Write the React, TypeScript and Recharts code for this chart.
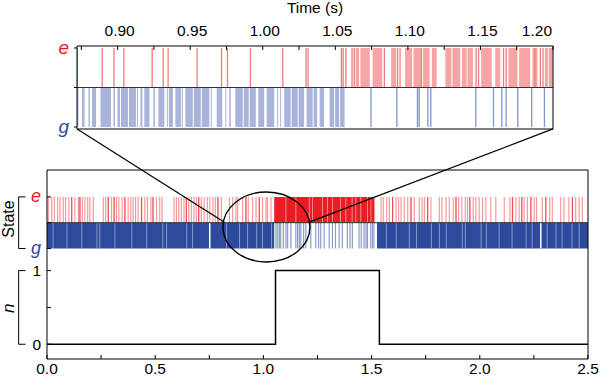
import React from 'react';
import { ComposedChart, Area, Line, XAxis, YAxis, ReferenceLine, ReferenceDot } from 'recharts';

// ---------------- data (seconds) ----------------
// photon number n(t)
const nTimes = [0, 1.056, 1.536, 2.5];
const nValues = [0, 1, 0, 0];

// main panel: isolated excursions to e (red lines in e row)
const eLinesMain = [
  0.006, 0.022, 0.034, 0.049, 0.06, 0.075, 0.086, 0.101, 0.114, 0.129, 0.145, 0.152, 0.163, 0.175, 0.188,
  0.198, 0.214, 0.26, 0.271, 0.283, 0.298, 0.31, 0.321, 0.332, 0.347, 0.36, 0.375, 0.387, 0.398, 0.409,
  0.421, 0.437, 0.452, 0.464, 0.48, 0.49, 0.506, 0.521, 0.532, 0.587, 0.598, 0.609, 0.621, 0.633, 0.644,
  0.655, 0.667, 0.679, 0.69, 0.701, 0.713, 0.726, 0.741, 0.752, 0.767, 0.778, 0.79, 0.806, 0.843, 0.858,
  0.873, 0.881, 0.904, 0.919, 0.93, 0.95, 0.966, 0.981, 0.996, 1.012, 1.019, 1.035,
  1.544, 1.554, 1.57, 1.582, 1.597, 1.613, 1.625, 1.636, 1.651, 1.667, 1.682, 1.697, 1.72, 1.733, 1.744,
  1.759, 1.774, 1.813, 1.825, 1.844, 1.859, 1.877, 1.89, 1.902, 1.917, 1.933, 1.943, 1.954, 1.97, 1.982,
  1.997, 2.013, 2.028, 2.051, 2.074, 2.113, 2.139, 2.151, 2.167, 2.182, 2.194, 2.205, 2.22, 2.236, 2.251,
  2.262, 2.289, 2.305, 2.323, 2.335, 2.374, 2.389, 2.412, 2.428, 2.443, 2.459, 2.474,
];
// stronger (darker) red excursions in the main panel
const eStrongMain = [0.114, 0.152, 0.283, 0.31, 0.36, 0.437, 0.49, 0.644, 0.701, 0.79, 0.919, 0.981, 1.597, 1.682, 1.759, 1.89, 1.954, 2.151, 2.194, 2.236, 2.305, 2.428];
// main panel: continuous e period and its short drops
const eBlocksMain: [number, number][] = [[1.05, 1.513]];
const eGapsMain = [1.104, 1.15, 1.212, 1.227, 1.273, 1.296, 1.319, 1.356, 1.381, 1.41, 1.427, 1.45, 1.481, 1.497];
// main panel: g periods, their short drops, and g excursions inside the e period
const gBlocksMain: [number, number][] = [[0, 1.05], [1.525, 2.5]];
const gGapsMain = [
  0.028, 0.092, 0.161, 0.231, 0.244, 0.314, 0.392, 0.461, 0.535, 0.553, 0.646, 0.673, 0.83, 0.89, 0.927,
  0.969, 0.996, 1.038, 1.568, 1.614, 1.674, 1.707, 1.776, 1.813, 1.845, 1.919, 1.933, 2.006, 2.03, 2.089,
  2.149, 2.214, 2.242, 2.311, 2.352, 2.38, 2.426, 2.459,
];
const gWideGapsMain = [0.752, 2.282];
const gLinesMain = [
  1.058, 1.066, 1.074, 1.08, 1.092, 1.104, 1.112, 1.127, 1.15, 1.158, 1.166, 1.173, 1.186, 1.196, 1.219,
  1.242, 1.255, 1.265, 1.281, 1.304, 1.319, 1.333, 1.35, 1.365, 1.388, 1.4, 1.411, 1.442, 1.452, 1.465,
  1.474, 1.481, 1.496, 1.504, 1.511,
];

// inset (zoom 0.872 - 1.2 s)
const eLinesInset = [
  0.8722, 0.8894, 0.8975, 0.9043, 0.9238, 0.9314, 0.9348, 0.9548, 0.9716, 0.9757, 0.9915, 1.0138, 1.0298,
  1.0312, 1.0542, 1.0554, 1.0573, 1.0615, 1.063, 1.0838, 1.0929, 1.0946, 1.1094, 1.147, 1.1487, 1.1659,
  1.1677, 1.1876, 1.1913, 1.1931,
];
const eBlocksInset: [number, number][] = [
  [1.064, 1.0664], [1.0673, 1.0737], [1.0757, 1.0823], [1.0885, 1.0919], [1.0981, 1.1029], [1.1039, 1.1091],
  [1.1105, 1.115], [1.1165, 1.1198], [1.1258, 1.13], [1.1307, 1.1361], [1.1372, 1.1405], [1.1411, 1.1448],
  [1.1505, 1.1578], [1.1602, 1.1636], [1.1693, 1.1755], [1.1767, 1.1843], [1.1858, 1.1893], [1.1944, 1.1965],
  [1.1971, 1.1998],
];
const gBlocksInset: [number, number][] = [
  [0.872, 0.873], [0.8754, 0.8772], [0.8799, 0.8809], [0.8823, 0.8851], [0.8882, 0.8954], [0.8971, 0.8981],
  [0.8999, 0.9016], [0.9023, 0.9071], [0.9078, 0.9126], [0.9133, 0.914], [0.9157, 0.9171], [0.9184, 0.9219],
  [0.9246, 0.9257], [0.9281, 0.9322], [0.9339, 0.9346], [0.9353, 0.9381], [0.9398, 0.9436], [0.9442, 0.9449],
  [0.9467, 0.9518], [0.9525, 0.9573], [0.958, 0.9632], [0.9642, 0.9649], [0.9683, 0.9721], [0.9742, 0.9749],
  [0.9769, 0.978], [0.9811, 0.9862], [0.9869, 0.9903], [0.991, 0.9952], [0.9969, 1.001], [1.0027, 1.0079],
  [1.0099, 1.0106], [1.012, 1.0127], [1.0148, 1.0192], [1.0199, 1.0241], [1.0247, 1.0285], [1.0302, 1.0344],
  [1.0351, 1.0375], [1.0392, 1.0423], [1.0461, 1.0492], [1.0499, 1.0526], [1.0533, 1.0564],
];
const gLinesInset = [1.0746, 1.0924, 1.1066, 1.1078, 1.1138, 1.1158, 1.1468, 1.159, 1.1647, 1.1677, 1.1757, 1.1853, 1.1941];

// ticks
const mainXTicks = [0, 0.25, 0.5, 0.75, 1, 1.25, 1.5, 1.75, 2, 2.25, 2.5];
const mainTopTicks = [0, 0.5, 1, 1.5, 2, 2.5];
const mainYTicks = [0, 0.5, 1, 1.3, 1.65, 2];
const insetXTicks = [0.875, 0.9, 0.925, 0.95, 0.975, 1, 1.025, 1.05, 1.075, 1.1, 1.125, 1.15, 1.175, 1.2];
const insetYTicks = [0, 1, 2];

// annotation geometry (main-panel data coordinates)
const zoomEllipse = { x: 1.014, y: 1.592 };
const linkLeft = [{ x: 0.139, y: 2.922 }, { x: 0.818, y: 1.66 }];
const linkRight = [{ x: 2.338, y: 2.922 }, { x: 1.215, y: 1.66 }];

// ---------------- helpers ----------------
const W_MAIN = 0.0055;
const W_GAP = 0.004;
const W_WIDE = 0.007;
const W_INSET = 0.0009;

type Pt = { t: number; v: number };
function steps(intervals: [number, number][], on: number, off: number, start: number, end: number): Pt[] {
  const pts: Pt[] = [{ t: start, v: off }];
  intervals.forEach(([s, e]) => {
    pts.push({ t: s, v: on });
    pts.push({ t: e, v: off });
  });
  pts.push({ t: end, v: off });
  return pts;
}
const asIntervals = (times: number[], w: number): [number, number][] => times.map((t) => [t - w / 2, t + w / 2]);

const RED = '#ec1c24';
const BLUE = '#2e4a9c';
const FONT = 'Liberation Sans, Arial, Helvetica, sans-serif';

const nData = nTimes.map((t, i) => ({ t, n: nValues[i] }));

// main rows: e row 1.65..2.0, g row 1.3..1.65
const mainE_lines = steps(asIntervals(eLinesMain, W_MAIN), 2.0, 1.65, 0, 2.5);
const mainE_strong = steps(asIntervals(eStrongMain, W_MAIN), 2.0, 1.65, 0, 2.5);
const mainE_blocks = steps(eBlocksMain, 2.0, 1.65, 0, 2.5);
const mainE_gaps = steps(asIntervals(eGapsMain, W_GAP), 2.0, 1.65, 0, 2.5);
const mainG_blocks = steps(gBlocksMain, 1.65, 1.3, 0, 2.5);
const mainG_gaps = steps(asIntervals(gGapsMain, W_GAP), 1.65, 1.3, 0, 2.5);
const mainG_wide = steps(asIntervals(gWideGapsMain, W_WIDE), 1.65, 1.3, 0, 2.5);
const mainG_lines = steps(asIntervals(gLinesMain, W_MAIN), 1.65, 1.3, 0, 2.5);

// inset rows: e row 1..2, g row 0..1
const IN_START = 0.872;
const IN_END = 1.2;
const inE_lines = steps(asIntervals(eLinesInset, W_INSET), 2, 1, IN_START, IN_END);
const inE_blocks = steps(eBlocksInset, 2, 1, IN_START, IN_END);
const inG_blocks = steps(gBlocksInset, 1, 0, IN_START, IN_END);
const inG_lines = steps(asIntervals(gLinesInset, W_INSET), 1, 0, IN_START, IN_END);

const fmtMainX = (v: number) => (Math.round(v * 4) % 2 === 0 ? v.toFixed(1) : '');

const MainYTick = (props: any) => {
  const { x, y, payload } = props;
  const v = payload.value;
  if (Math.abs(v - 2) < 1e-6)
    return <text x={x} y={y} dy="0.3em" textAnchor="end" fontSize={18} fontStyle="italic" fill={RED}>e</text>;
  if (Math.abs(v - 1.3) < 1e-6)
    return <text x={x} y={y} dy="0.3em" textAnchor="end" fontSize={18} fontStyle="italic" fill={BLUE}>g</text>;
  if (v === 0 || v === 1)
    return <text x={x} y={y} dy="0.36em" textAnchor="end" fontSize={15.5} fill="#000">{String(v)}</text>;
  return <g />;
};

const InsetYTick = (props: any) => {
  const { x, y, payload } = props;
  const v = payload.value;
  if (v === 2) return <text x={x} y={y} dy="0.3em" textAnchor="end" fontSize={19} fontStyle="italic" fill={RED}>e</text>;
  if (v === 0) return <text x={x} y={y} dy="0.3em" textAnchor="end" fontSize={19} fontStyle="italic" fill={BLUE}>g</text>;
  return <g />;
};

const InsetXTick = (props: any) => {
  const { x, y, payload } = props;
  const v = payload.value;
  if (Math.round(v * 40) % 2 !== 0) return <g />;
  const last = v >= 1.2 - 1e-9;
  return (
    <text x={last ? x - 1 : x + 2} y={y} textAnchor={last ? 'end' : 'middle'} fontSize={15.5} fill="#000">
      {v.toFixed(2)}
    </text>
  );
};

const areaCommon = {
  type: 'stepAfter' as const,
  dataKey: 'v',
  stroke: 'none',
  isAnimationActive: false,
  dot: false,
  activeDot: false,
};

export default function App() {
  return (
    <div style={{ position: 'absolute', left: 0, top: 0, width: 600, height: 379, background: '#fff', overflow: 'hidden', fontFamily: FONT }}>
      {/* main panel */}
      <div style={{ position: 'absolute', left: 0, top: 0 }}>
        <ComposedChart width={600} height={379} margin={{ top: 160, right: 2, bottom: 0, left: 0 }}>
          <XAxis xAxisId="x" type="number" dataKey="t" domain={[0, 2.5]} allowDataOverflow ticks={mainXTicks} interval={0}
            tickFormatter={fmtMainX} tickSize={-4} tickMargin={8} height={20} stroke="#000"
            tick={{ fontSize: 15.5, fill: '#000' }} />
          <XAxis xAxisId="xt" orientation="top" type="number" domain={[0, 2.5]} allowDataOverflow ticks={mainTopTicks}
            interval={0} tick={false} tickSize={-4} height={10} stroke="#000" />
          <YAxis yAxisId="y" type="number" domain={[-0.2, 2.365]} allowDataOverflow ticks={mainYTicks} interval={0}
            tick={MainYTick} tickSize={-4} tickMargin={10} width={47} stroke="#000" />
          <YAxis yAxisId="yr" orientation="right" type="number" domain={[-0.2, 2.365]} allowDataOverflow ticks={mainYTicks}
            interval={0} tick={false} tickSize={-4} width={10} stroke="#000" />

          <Area {...areaCommon} data={mainE_lines} xAxisId="x" yAxisId="y" baseValue={1.65} fill={RED} fillOpacity={0.45} />
          <Area {...areaCommon} data={mainE_strong} xAxisId="x" yAxisId="y" baseValue={1.65} fill={RED} fillOpacity={0.6} />
          <Area {...areaCommon} data={mainE_blocks} xAxisId="x" yAxisId="y" baseValue={1.65} fill={RED} fillOpacity={1} />
          <Area {...areaCommon} data={mainE_gaps} xAxisId="x" yAxisId="y" baseValue={1.65} fill="#fff" fillOpacity={0.55} />
          <Area {...areaCommon} data={mainG_blocks} xAxisId="x" yAxisId="y" baseValue={1.3} fill={BLUE} fillOpacity={1} />
          <Area {...areaCommon} data={mainG_gaps} xAxisId="x" yAxisId="y" baseValue={1.3} fill="#fff" fillOpacity={0.5} />
          <Area {...areaCommon} data={mainG_wide} xAxisId="x" yAxisId="y" baseValue={1.3} fill="#fff" fillOpacity={1} />
          <Area {...areaCommon} data={mainG_lines} xAxisId="x" yAxisId="y" baseValue={1.3} fill={BLUE} fillOpacity={0.55} />

          <ReferenceLine xAxisId="x" yAxisId="y" y={1.65} stroke="#333" strokeWidth={1} />

          <Line data={nData} dataKey="n" xAxisId="x" yAxisId="y" type="stepAfter" stroke="#000" strokeWidth={1.5}
            dot={false} activeDot={false} isAnimationActive={false} />

          {/* zoom annotation */}
          <ReferenceDot xAxisId="x" yAxisId="y" x={zoomEllipse.x} y={zoomEllipse.y} ifOverflow="visible"
            shape={(p: any) => <ellipse cx={p.cx} cy={p.cy} rx={43.5} ry={35} fill="none" stroke="#000" strokeWidth={1.4} />} />
          <ReferenceLine xAxisId="x" yAxisId="y" segment={linkLeft} ifOverflow="visible" stroke="#000" strokeWidth={1.3} />
          <ReferenceLine xAxisId="x" yAxisId="y" segment={linkRight} ifOverflow="visible" stroke="#000" strokeWidth={1.3} />

          {/* brackets and axis titles */}
          <ReferenceLine xAxisId="x" yAxisId="y" segment={[{ x: -0.131, y: 2.0 }, { x: -0.131, y: 1.3 }]} ifOverflow="visible" stroke="#000" />
          <ReferenceLine xAxisId="x" yAxisId="y" segment={[{ x: -0.131, y: 2.0 }, { x: -0.099, y: 2.0 }]} ifOverflow="visible" stroke="#000" />
          <ReferenceLine xAxisId="x" yAxisId="y" segment={[{ x: -0.131, y: 1.3 }, { x: -0.099, y: 1.3 }]} ifOverflow="visible" stroke="#000" />
          <ReferenceLine xAxisId="x" yAxisId="y" segment={[{ x: -0.131, y: 1 }, { x: -0.131, y: 0 }]} ifOverflow="visible" stroke="#000" />
          <ReferenceLine xAxisId="x" yAxisId="y" segment={[{ x: -0.131, y: 1 }, { x: -0.099, y: 1 }]} ifOverflow="visible" stroke="#000" />
          <ReferenceLine xAxisId="x" yAxisId="y" segment={[{ x: -0.131, y: 0 }, { x: -0.099, y: 0 }]} ifOverflow="visible" stroke="#000" />
          <ReferenceDot xAxisId="x" yAxisId="y" x={-0.178} y={1.7} ifOverflow="visible"
            shape={(p: any) => (
              <text x={p.cx} y={p.cy} transform={`rotate(-90 ${p.cx} ${p.cy})`} textAnchor="middle" dy="0.35em" fontSize={16} fill="#000">State</text>
            )} />
          <ReferenceDot xAxisId="x" yAxisId="y" x={-0.178} y={0.49} ifOverflow="visible"
            shape={(p: any) => (
              <text x={p.cx} y={p.cy} transform={`rotate(-90 ${p.cx} ${p.cy})`} textAnchor="middle" dy="0.3em" fontSize={17} fontStyle="italic" fill="#000">n</text>
            )} />
        </ComposedChart>
      </div>

      {/* inset */}
      <div style={{ position: 'absolute', left: 0, top: 0 }}>
        <ComposedChart width={600} height={140} margin={{ top: 0, right: 44, bottom: 10, left: 0 }}>
          <XAxis xAxisId="t" orientation="top" type="number" dataKey="t" domain={[IN_START, IN_END]} allowDataOverflow
            ticks={insetXTicks} interval={0} tick={InsetXTick} tickSize={-4} tickMargin={14} height={46} stroke="#000"
            label={{ value: 'Time (s)', position: 'insideTop', offset: 2, fontSize: 15.5, fill: '#000' }} />
          <XAxis xAxisId="b" type="number" domain={[IN_START, IN_END]} allowDataOverflow tick={false} tickLine={false}
            height={1} stroke="#000" />
          <YAxis yAxisId="y" type="number" domain={[-0.05, 2.05]} allowDataOverflow ticks={insetYTicks} interval={0}
            tick={InsetYTick} tickSize={3} tickMargin={5} width={77} stroke="#000" />
          <YAxis yAxisId="yr" orientation="right" type="number" domain={[-0.05, 2.05]} allowDataOverflow ticks={insetYTicks}
            interval={0} tick={false} tickSize={3} width={3} stroke="#000" />

          <Area {...areaCommon} data={inE_blocks} xAxisId="t" yAxisId="y" baseValue={1} fill="#f6a4a4" fillOpacity={1} />
          <Area {...areaCommon} data={inE_lines} xAxisId="t" yAxisId="y" baseValue={1} fill="#f07e7e" fillOpacity={1} />
          <Area {...areaCommon} data={inG_blocks} xAxisId="t" yAxisId="y" baseValue={0} fill="#a9b4dc" fillOpacity={1} />
          <Area {...areaCommon} data={inG_lines} xAxisId="t" yAxisId="y" baseValue={0} fill="#8595cf" fillOpacity={1} />

          <ReferenceLine xAxisId="t" yAxisId="y" y={1} stroke="#333" strokeWidth={1} />
        </ComposedChart>
      </div>
    </div>
  );
}
